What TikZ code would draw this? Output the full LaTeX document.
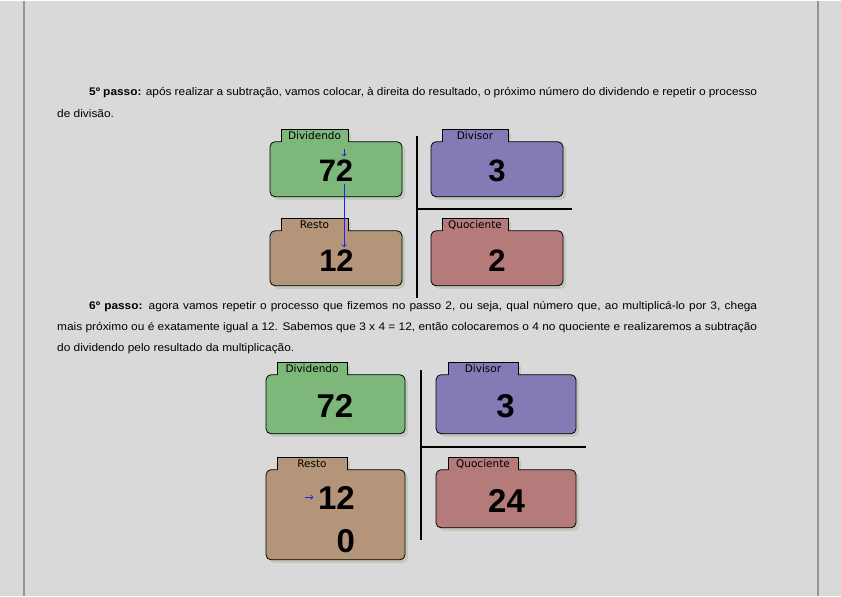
\documentclass[tikz,border=0pt]{standalone}
\usepackage{fontspec}
\setmainfont{Liberation Sans}
\newfontfamily\corpofont[FakeStretch=1.08]{Liberation Sans}
\newfontfamily\rotulofont{DejaVu Sans}
\usetikzlibrary{arrows.meta}
\definecolor{fundo}{RGB}{217,217,217}
\definecolor{borda}{RGB}{150,150,150}
\definecolor{verde}{RGB}{125,184,122}
\definecolor{roxo}{RGB}{130,123,182}
\definecolor{marrom}{RGB}{180,149,122}
\definecolor{rosa}{RGB}{181,122,122}
\definecolor{sombra}{RGB}{190,202,186}
\definecolor{azul}{RGB}{30,30,255}
\tikzset{
  aba/.style={font=\rotulofont\fontsize{10.5}{12}\selectfont, inner sep=0pt},
  numero/.style={font=\bfseries\fontsize{31}{31}\selectfont, inner sep=0pt},
  numerog/.style={font=\bfseries\fontsize{33}{33}\selectfont, inner sep=0pt},
  texto/.style={anchor=base west, inner sep=0pt, font=\corpofont\fontsize{11}{13}\selectfont},
  seta/.style={azul, line width=0.6pt, -{Straight Barb[length=2.5pt,width=4.5pt]}},
  chave/.style={line width=1.6pt},
}
\begin{document}
\begin{tikzpicture}[x=1pt,y=-1pt]
    \fill[fundo] (0,0) rectangle (841,595);
    \draw[borda, line width=1.5pt] (24,0) -- (24,595);
    \draw[borda, line width=1.5pt] (818,0) -- (818,595);
    % texto
    \node[texto] (passo5) at (89,95) {\makebox[668pt][s]{\textbf{5º passo:} após realizar a subtração, vamos colocar, à direita do resultado, o próximo número do dividendo e repetir o processo}};
    \node[texto] (passo5b) at (57,116.5) {de divisão.};
    \node[texto] (passo6) at (89,309) {\makebox[668pt][s]{\textbf{6º passo:} agora vamos repetir o processo que fizemos no passo 2, ou seja, qual número que, ao multiplicá-lo por 3, chega}};
    \node[texto] (passo6b) at (57,330) {\makebox[700pt][s]{mais próximo ou é exatamente igual a 12. Sabemos que 3 x 4 = 12, então colocaremos o 4 no quociente e realizaremos a subtração}};
    \node[texto] (passo6c) at (57,351) {do dividendo pelo resultado da multiplicação.};
    % pastas
    \foreach \xa/\ya/\xb/\yb/\ta/\tb/\cor/\rot in {
        270/141/402/196/281/348/verde/Dividendo, 431/141/563/196/442/508/roxo/Divisor,
        270/230/402/285/281/348/marrom/Resto, 431/230/563/285/442/508/rosa/Quociente,
        266/374/405/433/277/347/verde/Dividendo, 436/374/576/433/448/518/roxo/Divisor,
        266/469/405/559/277/347/marrom/Resto, 436/469/576/527/448/518/rosa/Quociente}{
      \fill[sombra, rounded corners=5] (\xa+3,\ya+3) rectangle (\xb+3,\yb+3);
      \fill[sombra] (\ta+3,\ya-9) rectangle (\tb+3,\ya+1);
      \filldraw[fill=\cor, line width=0.8pt, rounded corners=5] (\xa,\ya) rectangle (\xb,\yb);
      \fill[\cor] (\ta,\ya-12) rectangle (\tb,\ya+0.8);
      \draw[line width=0.8pt] (\ta,\ya) |- (\tb,\ya-12) -- (\tb,\ya);
      \node[aba] at ({(\ta+\tb)/2},\ya-6) {\rot};
    }
    % chaves
    \draw[chave] (417,135) -- (417,297);
    \draw[chave] (417,208) -- (572,208);
    \draw[chave] (421,369) -- (421,539);
    \draw[chave] (421,446) -- (586,446);
    % numeros
    \node[numero] (n72a) at (336,170) {72};
    \node[numero] (n3a) at (497,170) {3};
    \node[numero] (n12a) at (336.5,260) {12};
    \node[numero] (n2a) at (497,260) {2};
    \node[numerog] (n72b) at (335,405) {72};
    \node[numerog] (n3b) at (505.5,405) {3};
    \node[numerog] (n12b) at (336.5,497) {12};
    \node[numerog, anchor=east] (n0b) at (n12b.east |- 0,540) {0};
    \node[numerog] (n24b) at (506.5,500) {24};
    % setas
    \coordinate (s1) at (344,148.5);
    \coordinate (s2) at (344,156);
    \coordinate (s3) at (344,183);
    \coordinate (s4) at (344,246.5);
    \coordinate (s5) at (304.5,496.5);
    \coordinate (s6) at (313.5,496.5);
    \draw[seta] (s1) -- (s2);
    \draw[seta] (s3) -- (s4);
    \draw[seta] (s5) -- (s6);
\end{tikzpicture}
\end{document}
